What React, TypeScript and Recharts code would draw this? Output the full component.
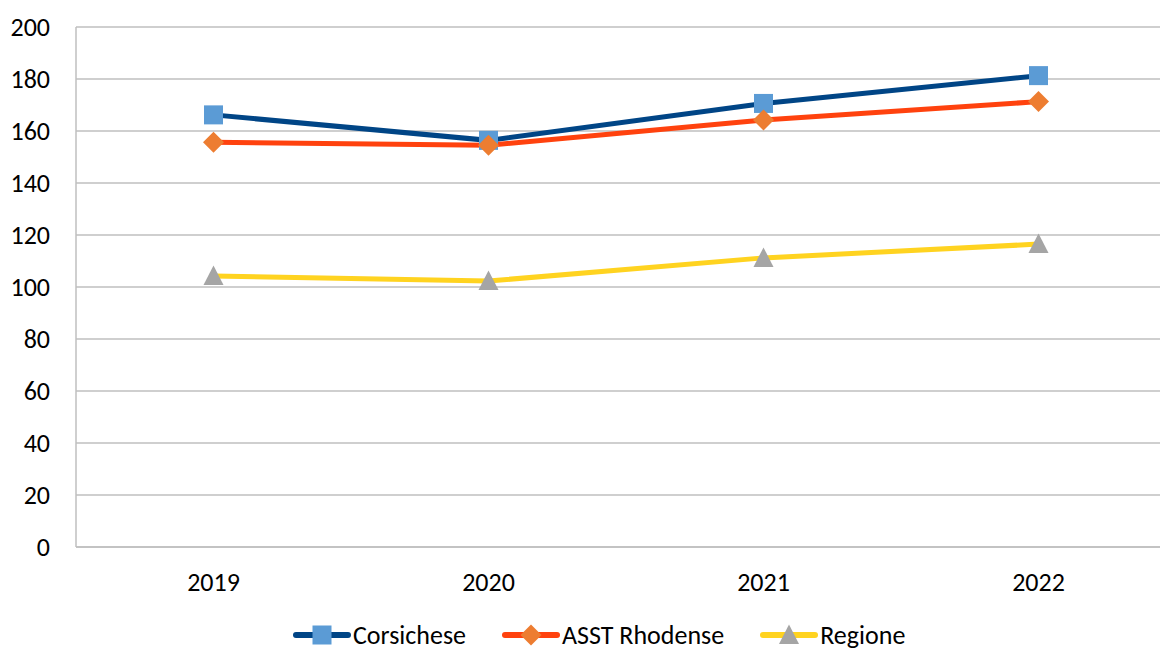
import React from "react";
import { LineChart, Line, XAxis, YAxis, CartesianGrid, Legend } from "recharts";

const years = ["2019", "2020", "2021", "2022"];
const corsichese = [166.2, 156.4, 170.6, 181.3];
const asstRhodense = [155.7, 154.5, 164.2, 171.3];
const regione = [104.2, 102.3, 111.2, 116.5];
const yTicks = [0, 20, 40, 60, 80, 100, 120, 140, 160, 180, 200];

const data = years.map((year, i) => ({
  year,
  corsichese: corsichese[i],
  asst: asstRhodense[i],
  regione: regione[i],
}));

const FONT = "Carlito, Lato, 'Open Sans', sans-serif";

const SERIES = [
  { key: "corsichese", name: "Corsichese", line: "#004586", marker: "#5B9BD5", shape: "square" },
  { key: "asst", name: "ASST Rhodense", line: "#FF420E", marker: "#ED7D31", shape: "diamond" },
  { key: "regione", name: "Regione", line: "#FFD320", marker: "#A5A5A5", shape: "triangle" },
];

function Marker({ cx, cy, shape, color, size = 19 }: any) {
  if (cx == null || cy == null) return null;
  const h = size / 2;
  if (shape === "square") {
    return <rect x={cx - h} y={cy - h} width={size} height={size} fill={color} />;
  }
  if (shape === "diamond") {
    const d = h + 1;
    return <polygon points={`${cx},${cy - d} ${cx + d},${cy} ${cx},${cy + d} ${cx - d},${cy}`} fill={color} />;
  }
  return (
    <polygon
      points={`${cx},${cy - h - 1} ${cx + h + 0.5},${cy + h - 0.5} ${cx - h - 0.5},${cy + h - 0.5}`}
      fill={color}
    />
  );
}

function LegendContent() {
  return (
    <div style={{ display: "flex", alignItems: "center", fontFamily: FONT, fontSize: 26, lineHeight: "26px", color: "#000", whiteSpace: "nowrap" }}>
      {SERIES.map((s) => (
        <div key={s.key} style={{ display: "flex", alignItems: "center", marginRight: 36 }}>
          <svg width={58} height={24}>
            <line x1={3} y1={12} x2={55} y2={12} stroke={s.line} strokeWidth={6} strokeLinecap="round" />
            <Marker cx={29} cy={12} shape={s.shape} color={s.marker} size={19} />
          </svg>
          <span style={{ marginLeft: 2 }}>{s.name}</span>
        </div>
      ))}
    </div>
  );
}

export default function App() {
  return (
    <div style={{ position: "absolute", left: 0, top: 0, width: 1160, height: 650, overflow: "hidden", background: "#fff" }}>
      <LineChart width={1200} height={650} data={data} margin={{ top: 27, right: 24, left: 0, bottom: 0 }}>
        <CartesianGrid vertical={false} stroke="#BFBFBF" strokeWidth={1.5} />
        <XAxis
          dataKey="year"
          scale="band"
          height={103}
          stroke="#BFBFBF"
          strokeWidth={1.5}
          tickLine={false}
          tickSize={0}
          tickMargin={26}
          fontSize={26}
          fontFamily={FONT}
          tick={{ fontSize: 26, fill: "#000" }}
        />
        <YAxis
          domain={[0, 200]}
          ticks={yTicks}
          width={76}
          stroke="#BFBFBF"
          strokeWidth={1.5}
          tickLine={false}
          tickSize={0}
          tickMargin={26}
          fontSize={26}
          fontFamily={FONT}
          tick={{ fontSize: 26, fill: "#000" }}
        />
        {SERIES.map((s) => (
          <Line
            key={s.key}
            type="linear"
            dataKey={s.key}
            name={s.name}
            stroke={s.line}
            strokeWidth={5}
            isAnimationActive={false}
            dot={(p: any) => <Marker key={`${s.key}-${p.index}`} cx={p.cx} cy={p.cy} shape={s.shape} color={s.marker} />}
            activeDot={false}
          />
        ))}
        <Legend
          verticalAlign="middle"
          content={<LegendContent />}
          wrapperStyle={{ top: 622, left: 293, width: "auto" }}
        />
      </LineChart>
    </div>
  );
}
